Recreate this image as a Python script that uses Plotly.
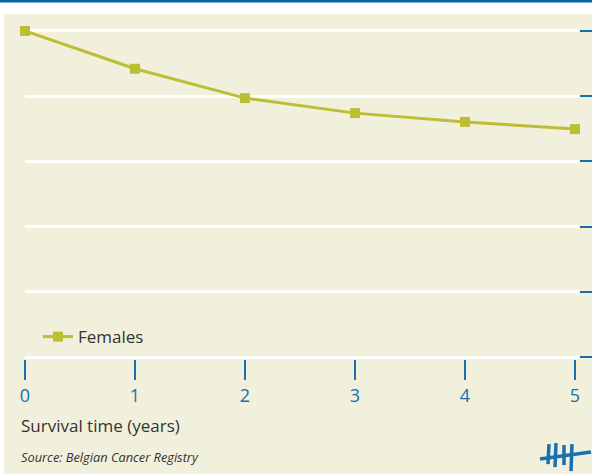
import plotly.graph_objects as go

# survival curve
years = [0, 1, 2, 3, 4, 5]
females = [100, 88.4, 79.4, 74.8, 72.1, 69.9]
y_ticks = [0, 20, 40, 60, 80, 100]
x_labels = ["0", "1", "2", "3", "4", "5"]

W, H = 592, 474
BG = "#F1F0DC"
BLUE = "#1A6FAE"
OLIVE = "#BDBE34"
TEXT = "#333333"

# plot area in pixels (y range padded a bit so the edge gridlines show)
L, R = 25, 579
X_MAX = 5 * (R - L) / 550
Y_LO, Y_HI = -0.6, 100.6
T = 357 - 326 * Y_HI / 100
B = 357 - 326 * Y_LO / 100


def px(x, y):
    # pixel position -> paper coordinates
    return (x - L) / (R - L), (B - y) / (B - T)


fig = go.Figure()

fig.add_trace(go.Scatter(
    x=years, y=females, name="Females",
    mode="lines+markers",
    line=dict(color=OLIVE, width=3),
    marker=dict(symbol="square", size=10, color=OLIVE),
    cliponaxis=False,
))

# copy on a second axis only so the right-hand ticks get drawn
fig.add_trace(go.Scatter(
    x=years, y=females, yaxis="y2", mode="lines",
    line=dict(width=0), opacity=0, showlegend=False, hoverinfo="skip",
))

fig.update_layout(
    width=W, height=H,
    margin=dict(l=L, r=W - R, t=T, b=H - B, pad=0, autoexpand=False),
    paper_bgcolor="white",
    plot_bgcolor=BG,
    font=dict(family="Open Sans, Noto Sans, sans-serif", color=TEXT),
    xaxis=dict(
        range=[0, X_MAX], tickvals=years, ticktext=x_labels,
        showgrid=False, zeroline=False, showline=False, automargin=False,
        ticks="outside", ticklen=20, tickwidth=1.5, tickcolor=BLUE,
        tickfont=dict(size=18, color=BLUE), ticklabelstandoff=0,
    ),
    yaxis=dict(
        range=[Y_LO, Y_HI], tickvals=y_ticks, showticklabels=False,
        showgrid=True, gridcolor="white", gridwidth=2.5,
        zeroline=False, showline=False, automargin=False,
    ),
    yaxis2=dict(
        range=[Y_LO, Y_HI], tickvals=y_ticks, showticklabels=False,
        overlaying="y", side="right", anchor="x", automargin=False,
        showgrid=False, zeroline=False, showline=False,
        ticks="outside", ticklen=14, tickwidth=2, tickcolor=BLUE,
    ),
    legend=dict(
        x=px(38, 0)[0], y=px(0, 337)[1], xanchor="left", yanchor="middle",
        bgcolor="rgba(0,0,0,0)", font=dict(size=17, color=TEXT),
        itemwidth=30,
    ),
    showlegend=True,
)

# beige panel and blue top rule
x0, y0 = px(4, 474)
x1, y1 = px(600, 14)
fig.add_shape(type="rect", xref="paper", yref="paper", layer="below",
              x0=x0, x1=x1, y0=y0 - 0.05, y1=y1, fillcolor=BG, line_width=0)
x0, y0 = px(-5, 2.5)
x1, y1 = px(600, -1)
fig.add_shape(type="rect", xref="paper", yref="paper",
              x0=x0, x1=x1, y0=y0, y1=y1, fillcolor="#0A64A0", line_width=0)

ax, ay = px(19, 425)
fig.add_annotation(text="Survival time (years)", xref="paper", yref="paper",
                   x=ax, y=ay, xanchor="left", yanchor="middle",
                   showarrow=False, font=dict(size=17, color=TEXT))
ax, ay = px(19, 457)
fig.add_annotation(text="<i>Source: Belgian Cancer Registry</i>", xref="paper", yref="paper",
                   x=ax, y=ay, xanchor="left", yanchor="middle",
                   showarrow=False, font=dict(size=12.8, color=TEXT))

# tally-mark logo bottom right
for sx0, sy0, sx1, sy1 in [(549, 444, 548, 464), (556, 443, 555, 467),
                           (564, 445, 564, 465), (572, 444, 571, 471),
                           (540, 459, 591, 452)]:
    a, b = px(sx0, sy0)
    c, d = px(sx1, sy1)
    fig.add_shape(type="line", xref="paper", yref="paper",
                  x0=a, y0=b, x1=c, y1=d, line=dict(color=BLUE, width=3.5))

fig.write_html("out.html", config={"displayModeBar": False},
               post_script="document.body.style.margin='0';")
